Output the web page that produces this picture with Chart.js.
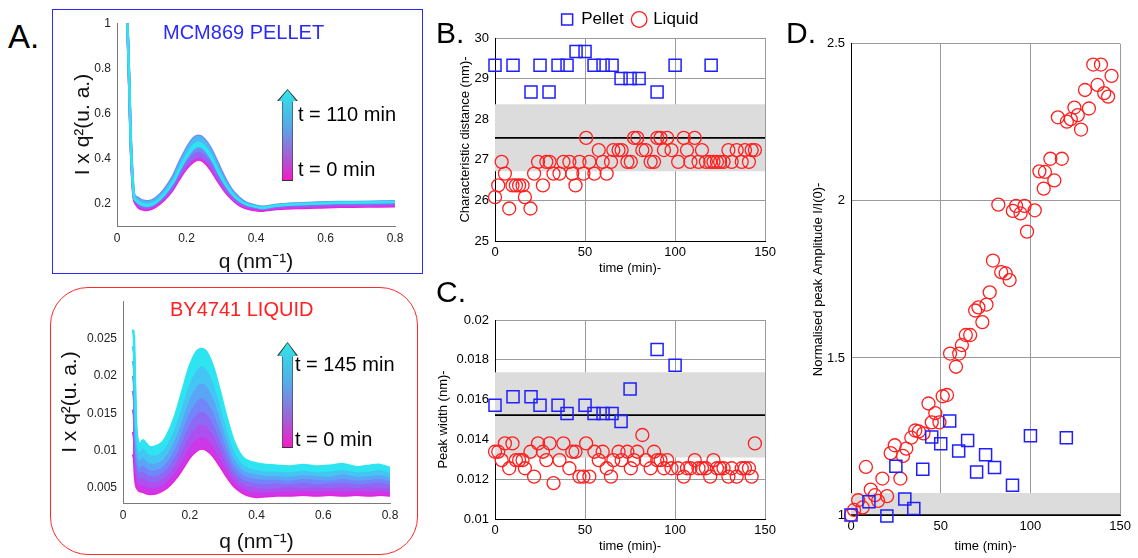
<!DOCTYPE html>
<html>
<head>
<meta charset="utf-8">
<script src="https://cdn.jsdelivr.net/npm/chart.js@4.4.1/dist/chart.umd.min.js"></script>
<style>
  body { margin: 0; background: #fff; font-family: "Liberation Sans", Arial, sans-serif; }
  #wrap { position: relative; width: 1138px; height: 558px; overflow: hidden; }
  canvas { position: absolute; }
  .txt { position: absolute; line-height: 1; white-space: nowrap; }
  .panel { font-size: 30px; color: #000; }
  .box { position: absolute; box-sizing: border-box; }
  .arrow { position: absolute; width: 21px; background: #333;
    clip-path: polygon(50% 0, 100% 13%, 76% 13%, 76% 100%, 24% 100%, 24% 13%, 0 13%); }
  .arrow::after { content: ''; position: absolute; inset: 1px;
    background: linear-gradient(#2fe6e6, #58a8e8 40%, #9a68d8 70%, #f21cc8);
    clip-path: polygon(50% 0, 100% 13%, 76% 13%, 76% 100%, 24% 100%, 24% 13%, 0 13%); }
</style>
</head>
<body>
<div id="wrap">
  <div class="box" style="left:52px;top:9px;width:371px;height:265px;border:1.5px solid #2a2aff;"></div>
  <div class="box" style="left:50px;top:287px;width:368px;height:268px;border:1.5px solid #ff2a2a;border-radius:38px;"></div>

  <canvas id="pellet" width="360" height="266" style="left:55px;top:10px"></canvas>
  <canvas id="liquid" width="358" height="268" style="left:55px;top:288px"></canvas>
  <canvas id="distance" width="350" height="280" style="left:430px;top:0px"></canvas>
  <canvas id="width" width="350" height="258" style="left:430px;top:300px"></canvas>
  <canvas id="amplitude" width="345" height="528" style="left:790px;top:30px"></canvas>

  <div class="txt panel" style="left:8px;top:20px;font-size:33px">A.</div>
  <div class="txt panel" style="left:436px;top:18px">B.</div>
  <div class="txt panel" style="left:436px;top:277px">C.</div>
  <div class="txt panel" style="left:786px;top:18px">D.</div>

  <div class="txt" style="left:163px;top:22px;font-size:20px;color:#2a2aff">MCM869 PELLET</div>
  <div class="txt" style="left:170px;top:299px;font-size:20px;color:#ff2020">BY4741 LIQUID</div>

  <div class="arrow" style="left:277px;top:89px;height:92px"></div>
  <div class="txt" style="left:298px;top:104px;font-size:20px">t = 110 min</div>
  <div class="txt" style="left:298px;top:159px;font-size:20px">t = 0 min</div>

  <div class="arrow" style="left:277px;top:342px;height:106px"></div>
  <div class="txt" style="left:295px;top:354px;font-size:20px">t = 145 min</div>
  <div class="txt" style="left:295px;top:429px;font-size:20px">t = 0 min</div>
</div>

<script>
// ---- A. scattering curves, I x q^2 vs q ----
const qTicks = [0, 0.2, 0.4, 0.6, 0.8];

const pelletQ = [0.03,0.035,0.04,0.045,0.05,0.06,0.07,0.09,0.11,0.135,0.16,0.18,0.20,0.22,0.235,
                 0.25,0.27,0.29,0.31,0.33,0.35,0.37,0.40,0.42,0.46,0.52,0.58,0.64,0.72,0.80];
// t = 0 ... 110 min
const pellet0   = [1.00,0.72,0.44,0.28,0.21,0.185,0.175,0.172,0.185,0.215,0.26,0.31,0.355,0.385,0.395,0.385,0.35,0.30,0.255,0.22,0.195,0.18,0.17,0.168,0.175,0.18,0.182,0.185,0.186,0.188];
const pellet20  = [1.00,0.73,0.45,0.29,0.215,0.19,0.18,0.178,0.19,0.22,0.265,0.318,0.363,0.395,0.405,0.395,0.36,0.31,0.262,0.225,0.2,0.185,0.175,0.172,0.18,0.185,0.188,0.19,0.19,0.192];
const pellet40  = [1.00,0.74,0.46,0.30,0.22,0.2,0.19,0.188,0.2,0.232,0.28,0.335,0.385,0.42,0.43,0.42,0.385,0.33,0.278,0.238,0.21,0.193,0.182,0.178,0.186,0.192,0.195,0.197,0.198,0.2];
const pellet60  = [1.00,0.76,0.48,0.32,0.235,0.225,0.215,0.21,0.222,0.26,0.318,0.385,0.445,0.49,0.50,0.488,0.445,0.38,0.315,0.262,0.228,0.205,0.19,0.185,0.194,0.2,0.204,0.206,0.207,0.21];
const pellet85  = [1.00,0.75,0.47,0.31,0.23,0.215,0.205,0.2,0.212,0.248,0.302,0.365,0.422,0.465,0.475,0.463,0.423,0.36,0.3,0.252,0.22,0.2,0.187,0.182,0.192,0.198,0.202,0.205,0.206,0.208];
const pellet110 = [1.00,0.75,0.46,0.30,0.222,0.205,0.195,0.19,0.202,0.238,0.29,0.35,0.405,0.445,0.455,0.445,0.405,0.345,0.29,0.245,0.215,0.197,0.185,0.18,0.19,0.196,0.2,0.203,0.204,0.206];
const pelletYTicks = [0.2, 0.4, 0.6, 0.8, 1];

const liquidQ = [0.03,0.033,0.036,0.04,0.045,0.05,0.06,0.07,0.08,0.10,0.12,0.14,0.16,0.18,0.20,0.22,0.235,0.25,
                 0.27,0.29,0.31,0.33,0.35,0.37,0.40,0.43,0.46,0.50,0.54,0.58,0.62,0.66,0.70,0.74,0.77,0.80];
// t = 0 ... 145 min
const liquid0   = [0.0095,0.0090,0.0065,0.0052,0.0048,0.0046,0.0045,0.0043,0.0042,0.0043,0.0047,0.0054,0.0064,0.0077,0.0091,0.0100,0.0103,0.0101,0.0093,0.0080,0.0066,0.0054,0.0046,0.0041,0.0038,0.0039,0.0040,0.0040,0.0041,0.0040,0.0041,0.0040,0.0041,0.0040,0.0041,0.0040];
const liquid20  = [0.0125,0.0118,0.0085,0.0062,0.0056,0.0054,0.0054,0.0052,0.0050,0.0050,0.0054,0.0062,0.0073,0.0089,0.0104,0.0115,0.0118,0.0116,0.0105,0.0090,0.0074,0.0060,0.0052,0.0047,0.0044,0.0044,0.0045,0.0045,0.0046,0.0045,0.0046,0.0045,0.0046,0.0045,0.0046,0.0044];
const liquid40  = [0.0155,0.0146,0.0105,0.0072,0.0064,0.0062,0.0063,0.0060,0.0058,0.0058,0.0062,0.0071,0.0084,0.0102,0.0120,0.0131,0.0135,0.0132,0.0120,0.0102,0.0083,0.0067,0.0058,0.0053,0.0050,0.0049,0.0050,0.0051,0.0050,0.0051,0.0050,0.0051,0.0050,0.0051,0.0050,0.0049];
const liquid60  = [0.0180,0.0170,0.0125,0.0082,0.0072,0.0070,0.0072,0.0068,0.0066,0.0066,0.0071,0.0081,0.0095,0.0115,0.0135,0.0148,0.0152,0.0149,0.0135,0.0114,0.0093,0.0074,0.0064,0.0059,0.0056,0.0055,0.0056,0.0055,0.0057,0.0055,0.0056,0.0057,0.0055,0.0056,0.0057,0.0054];
const liquid80  = [0.0200,0.0190,0.0140,0.0092,0.0080,0.0077,0.0081,0.0077,0.0074,0.0074,0.0079,0.0090,0.0106,0.0129,0.0151,0.0165,0.0170,0.0166,0.0151,0.0127,0.0103,0.0082,0.0071,0.0065,0.0062,0.0061,0.0061,0.0060,0.0062,0.0061,0.0060,0.0062,0.0060,0.0061,0.0062,0.0059];
const liquid100 = [0.0220,0.0210,0.0158,0.0102,0.0090,0.0087,0.0091,0.0086,0.0083,0.0083,0.0088,0.0101,0.0119,0.0144,0.0169,0.0185,0.0190,0.0186,0.0169,0.0143,0.0115,0.0091,0.0078,0.0071,0.0068,0.0066,0.0066,0.0065,0.0067,0.0066,0.0065,0.0068,0.0065,0.0066,0.0067,0.0064];
const liquid120 = [0.0240,0.0230,0.0174,0.0116,0.0101,0.0098,0.0103,0.0098,0.0094,0.0094,0.0100,0.0114,0.0135,0.0163,0.0190,0.0207,0.0213,0.0208,0.0190,0.0161,0.0129,0.0102,0.0086,0.0078,0.0074,0.0072,0.0072,0.0071,0.0073,0.0071,0.0072,0.0074,0.0071,0.0072,0.0074,0.0070];
const liquid145 = [0.0262,0.0250,0.0190,0.0130,0.0112,0.0108,0.0114,0.0109,0.0105,0.0106,0.0112,0.0128,0.0152,0.0183,0.0213,0.0232,0.0236,0.0232,0.0212,0.0180,0.0145,0.0115,0.0096,0.0087,0.0083,0.0081,0.0080,0.0079,0.0081,0.0079,0.0080,0.0082,0.0078,0.0080,0.0081,0.0077];
const liquidYTicks = [0.005, 0.01, 0.015, 0.02, 0.025];

// ---- B, C, D. fitted peak parameters vs time ----
const timeTicks = [0, 50, 100, 150];

const pelletTime = [0,10,20,25,30,35,40,45,50,55,60,65,70,75,80,90,100,120];
const pelletDist = [29.33,29.33,28.67,29.33,28.67,29.33,29.33,29.67,29.67,29.33,29.33,29.33,29.0,29.0,29.0,28.67,29.33,29.33];
const pelletAmp  = [1.0,1.042,0.997,1.155,1.051,1.021,1.146,1.248,1.227,1.299,1.204,1.237,1.137,1.192,1.151,1.095,1.252,1.246];
const pelletWidthTime = [0,10,20,25,35,40,50,55,60,65,70,75,90,100];
const pelletWidth = [0.01572,0.01614,0.01614,0.01572,0.01572,0.0153,0.01572,0.0153,0.0153,0.0153,0.0149,0.01653,0.01852,0.01773];

const liquidTime = [0,1.8,3.7,5.5,7.9,9.7,11.6,13.4,15.3,16.6,19.7,21.7,23.9,26.6,28.5,30.3,32.5,35.8,38,41.3,
  42.9,44.7,46.9,49.1,50.6,52.4,55.2,57.6,59.8,62,64.4,65.7,68.6,70.3,73.5,75.4,77.2,79,81.8,83.7,
  86.4,88.3,90.1,91.9,93.8,95.6,98,101.7,104.8,106.6,108.5,110.9,113,114.9,117.1,119.5,121.3,123.2,125,126.9,
  129.6,131.4,134.2,137,138.8,141,142.5,144.3];
const liquidDist = [26.08,26.37,26.95,26.66,25.80,26.37,26.37,26.37,26.37,26.08,25.80,26.66,26.95,26.37,26.95,
  26.95,26.66,26.66,26.95,26.95,26.66,26.37,26.95,26.66,27.54,26.95,26.66,27.24,26.95,26.66,
  26.95,27.24,27.24,27.24,26.95,26.95,27.54,27.54,27.24,27.24,26.95,26.95,27.54,27.54,27.24,
  27.54,27.24,26.95,27.54,27.24,26.95,27.54,26.95,27.24,26.95,26.95,26.95,26.95,26.95,26.95,
  27.24,26.95,27.24,26.95,27.24,26.95,27.24,27.24];
const liquidWidth = [0.01338,0.01338,0.01296,0.0138,0.01255,0.0138,0.01296,0.01296,0.01296,0.01255,
  0.01338,0.01213,0.0138,0.01338,0.01296,0.0138,0.0118,0.01296,0.0138,0.01255,
  0.01338,0.01338,0.01213,0.01213,0.0138,0.01213,0.01338,0.01296,0.01338,0.01255,
  0.01213,0.01296,0.01338,0.01296,0.01338,0.01255,0.01296,0.01338,0.01422,0.01296,
  0.01255,0.01338,0.01296,0.01296,0.01255,0.01296,0.01255,0.01255,0.01213,0.01255,
  0.01255,0.01296,0.01255,0.01255,0.01255,0.01213,0.01296,0.01255,0.01255,0.01255,
  0.01213,0.01255,0.01213,0.01255,0.01255,0.01255,0.01213,0.0138];
const liquidAmpTime = [0,1.7,4,6.5,8.3,11,13.3,15.1,17.5,20.1,22.1,24.4,27.5,29,30.8,33.6,35.8,37.8,40.4,43.2,
  45,47,49.3,51.1,53.5,55.2,58.5,60.3,61.8,64,66.4,69.2,71,73.2,75.5,77.3,79.1,82.1,83.7,86.2,
  88.4,90.2,92,94.5,96.7,98.1,102.4,105,107.4,108.1,111.1,113.3,115.3,117.5,120.3,122.5,124.5,126.4,128.2,130.4,
  132.6,135,137.4,139.3,141.1,143.3,145.2];
const liquidAmp = [1.0,1.016,1.047,1.024,1.153,1.081,1.063,1.045,1.116,1.06,1.197,1.222,1.116,1.188,1.211,
  1.246,1.269,1.266,1.26,1.355,1.295,1.324,1.295,1.378,1.382,1.514,1.472,1.514,1.541,1.573,
  1.573,1.651,1.661,1.614,1.67,1.709,1.81,1.988,1.773,1.769,1.748,1.968,1.984,1.96,1.984,
  1.902,1.97,2.094,2.039,2.092,2.134,2.065,2.266,2.134,2.252,2.26,2.297,2.273,2.227,2.353,
  2.294,2.434,2.369,2.434,2.343,2.332,2.398];

const distMean = 27.54, distBand = [26.72, 28.37];
const widthMean = 0.01522, widthBand = [0.01309, 0.01737];
const ampMean = 1, ampBand = [1, 1.07];

const BLUE = '#1f1fff', RED = '#ff1f1f';
const FONT = '"Liberation Sans", Arial, sans-serif';
Chart.defaults.font.family = FONT;
Chart.defaults.animation = false;
Chart.defaults.events = [];
Chart.defaults.plugins.tooltip.enabled = false;

// magenta (early) -> violet blue -> cyan (late)
function timeColour(f) {
  const stops = [[236, 30, 224], [125, 118, 250], [45, 228, 240]];
  const s = f < 0.5 ? 0 : 1, g = f < 0.5 ? f * 2 : (f - 0.5) * 2;
  const c = stops[s].map((v, i) => Math.round(v + (stops[s + 1][i] - v) * g));
  return `rgb(${c[0]},${c[1]},${c[2]})`;
}

function curveSets(q, curves) {
  return curves.map((ys, i) => {
    const col = timeColour(i / (curves.length - 1));
    return {
      data: ys.map((y, k) => ({ x: q[k], y })),
      borderColor: col, backgroundColor: col,
      borderWidth: 2.5, pointRadius: 0, tension: 0.3,
      fill: i === 0 ? false : '-1',
      order: curves.length - i   // later curves on top
    };
  });
}

const pts = (xs, ys) => ys.map((y, i) => ({ x: xs[i], y }));
const setTicks = vals => s => { s.ticks = vals.map(v => ({ value: v })); };
const plain = v => String(v);

function curveChart(id, q, curves, yMin, yMax, yTicks, geo) {
  return new Chart(document.getElementById(id), {
    type: 'line',
    data: { datasets: curveSets(q, curves) },
    options: {
      responsive: false,
      layout: { padding: { top: geo.top, right: geo.right, left: 0, bottom: 0 }, autoPadding: false },
      plugins: { legend: { display: false } },
      scales: {
        x: {
          type: 'linear', min: 0, max: 0.8,
          grid: { display: false, drawTicks: false },
          border: { color: '#7a7a7a' },
          ticks: { font: { size: 12 }, color: '#222', padding: 5, maxRotation: 0, callback: plain },
          afterBuildTicks: setTicks(qTicks),
          afterFit: s => { s.height = geo.xh; },
          title: { display: true, text: 'q (nm⁻¹)', font: { size: 21 }, color: '#111', padding: { top: 0, bottom: 1 } }
        },
        y: {
          min: yMin, max: yMax,
          grid: { display: false, drawTicks: false },
          border: { color: '#7a7a7a' },
          ticks: { font: { size: 12 }, color: '#222', padding: 6, callback: plain },
          afterBuildTicks: setTicks(yTicks),
          afterFit: s => { s.width = geo.yw; },
          title: { display: true, text: 'I x q²(u. a.)', font: { size: 21 }, color: '#111', padding: { top: geo.tp, bottom: 0 } }
        }
      }
    }
  });
}

curveChart('pellet', pelletQ, [pellet0, pellet20, pellet40, pellet60, pellet85, pellet110],
  0.1, 1, pelletYTicks, { top: 9, right: 20, xh: 50, yw: 62, tp: 16 });
curveChart('liquid', liquidQ, [liquid0, liquid20, liquid40, liquid60, liquid80, liquid100, liquid120, liquid145],
  0.003, 0.030, liquidYTicks, { top: 5, right: 23, xh: 53, yw: 68, tp: 3 });

function timePanel(id, o) {
  const flat = (y) => [{ x: 0, y }, { x: 150, y }];
  const grid = { color: '#9a9a9a', borderDash: [1, 2], lineWidth: 1, drawTicks: false };
  return new Chart(document.getElementById(id), {
    type: 'scatter',
    data: {
      datasets: [
        { label: 'Pellet', data: pts(o.pt, o.pv), pointStyle: 'rect', pointRadius: 8.5,
          borderColor: BLUE, backgroundColor: 'rgba(0,0,0,0)', borderWidth: 1.5, clip: false },
        { label: 'Liquid', data: pts(o.lt, o.lv), pointStyle: 'circle', pointRadius: 6.5,
          borderColor: RED, backgroundColor: 'rgba(0,0,0,0)', borderWidth: 1.3, clip: false },
        { label: 'mean', type: 'line', data: flat(o.mean), borderColor: '#000', borderWidth: 1.6, pointRadius: 0 },
        { label: 'band', type: 'line', data: flat(o.band[1]), borderColor: 'rgba(0,0,0,0)', pointRadius: 0,
          fill: '+1', backgroundColor: '#dcdcdc' },
        { label: 'bandLow', type: 'line', data: flat(o.band[0]), borderColor: 'rgba(0,0,0,0)', pointRadius: 0 }
      ]
    },
    options: {
      responsive: false,
      layout: { padding: { top: o.top, right: 13, left: 0, bottom: 0 }, autoPadding: false },
      plugins: {
        legend: o.legend ? {
          display: true, position: 'top', fullSize: false,
          labels: { usePointStyle: true, boxWidth: 11, boxHeight: 11, padding: 10,
            font: { size: 17 }, color: '#000', filter: it => it.datasetIndex < 2 }
        } : { display: false }
      },
      scales: {
        x: {
          min: 0, max: 150, grid,
          border: { color: '#000', width: 1 },
          ticks: { font: { size: 13 }, color: '#000', padding: 4, maxRotation: 0, callback: plain },
          afterBuildTicks: setTicks(timeTicks),
          afterFit: s => { s.height = o.xh; },
          title: { display: true, text: 'time (min)-', font: { size: 13 }, color: '#000', padding: { top: 0, bottom: 4 } }
        },
        y: {
          min: o.yMin, max: o.yMax, grid,
          border: { color: '#000', width: 1 },
          ticks: { font: { size: 13 }, color: '#000', padding: 6, callback: plain },
          afterBuildTicks: setTicks(o.yTicks),
          afterFit: s => { s.width = o.yw; },
          title: { display: true, text: o.yTitle, font: { size: 13 }, color: '#000', padding: { top: o.tp, bottom: 0 } }
        }
      }
    }
  });
}

timePanel('distance', {
  pt: pelletTime, pv: pelletDist, lt: liquidTime, lv: liquidDist,
  mean: distMean, band: distBand, yMin: 25, yMax: 30, yTicks: [25, 26, 27, 28, 29, 30],
  yTitle: 'Characteristic distance (nm)-', legend: true, top: 1, xh: 39, yw: 65, tp: 28
});
timePanel('width', {
  pt: pelletWidthTime, pv: pelletWidth, lt: liquidTime, lv: liquidWidth,
  mean: widthMean, band: widthBand, yMin: 0.01, yMax: 0.02,
  yTicks: [0.01, 0.012, 0.014, 0.016, 0.018, 0.02],
  yTitle: 'Peak width (nm)-', legend: false, top: 20, xh: 39, yw: 65, tp: 6
});
timePanel('amplitude', {
  pt: pelletTime, pv: pelletAmp, lt: liquidAmpTime, lv: liquidAmp,
  mean: ampMean, band: ampBand, yMin: 1, yMax: 2.5, yTicks: [1, 1.5, 2, 2.5],
  yTitle: 'Normalised peak Amplitude I/I(0)-', legend: false, top: 12, xh: 43, yw: 61, tp: 21
});
</script>
</body>
</html>
